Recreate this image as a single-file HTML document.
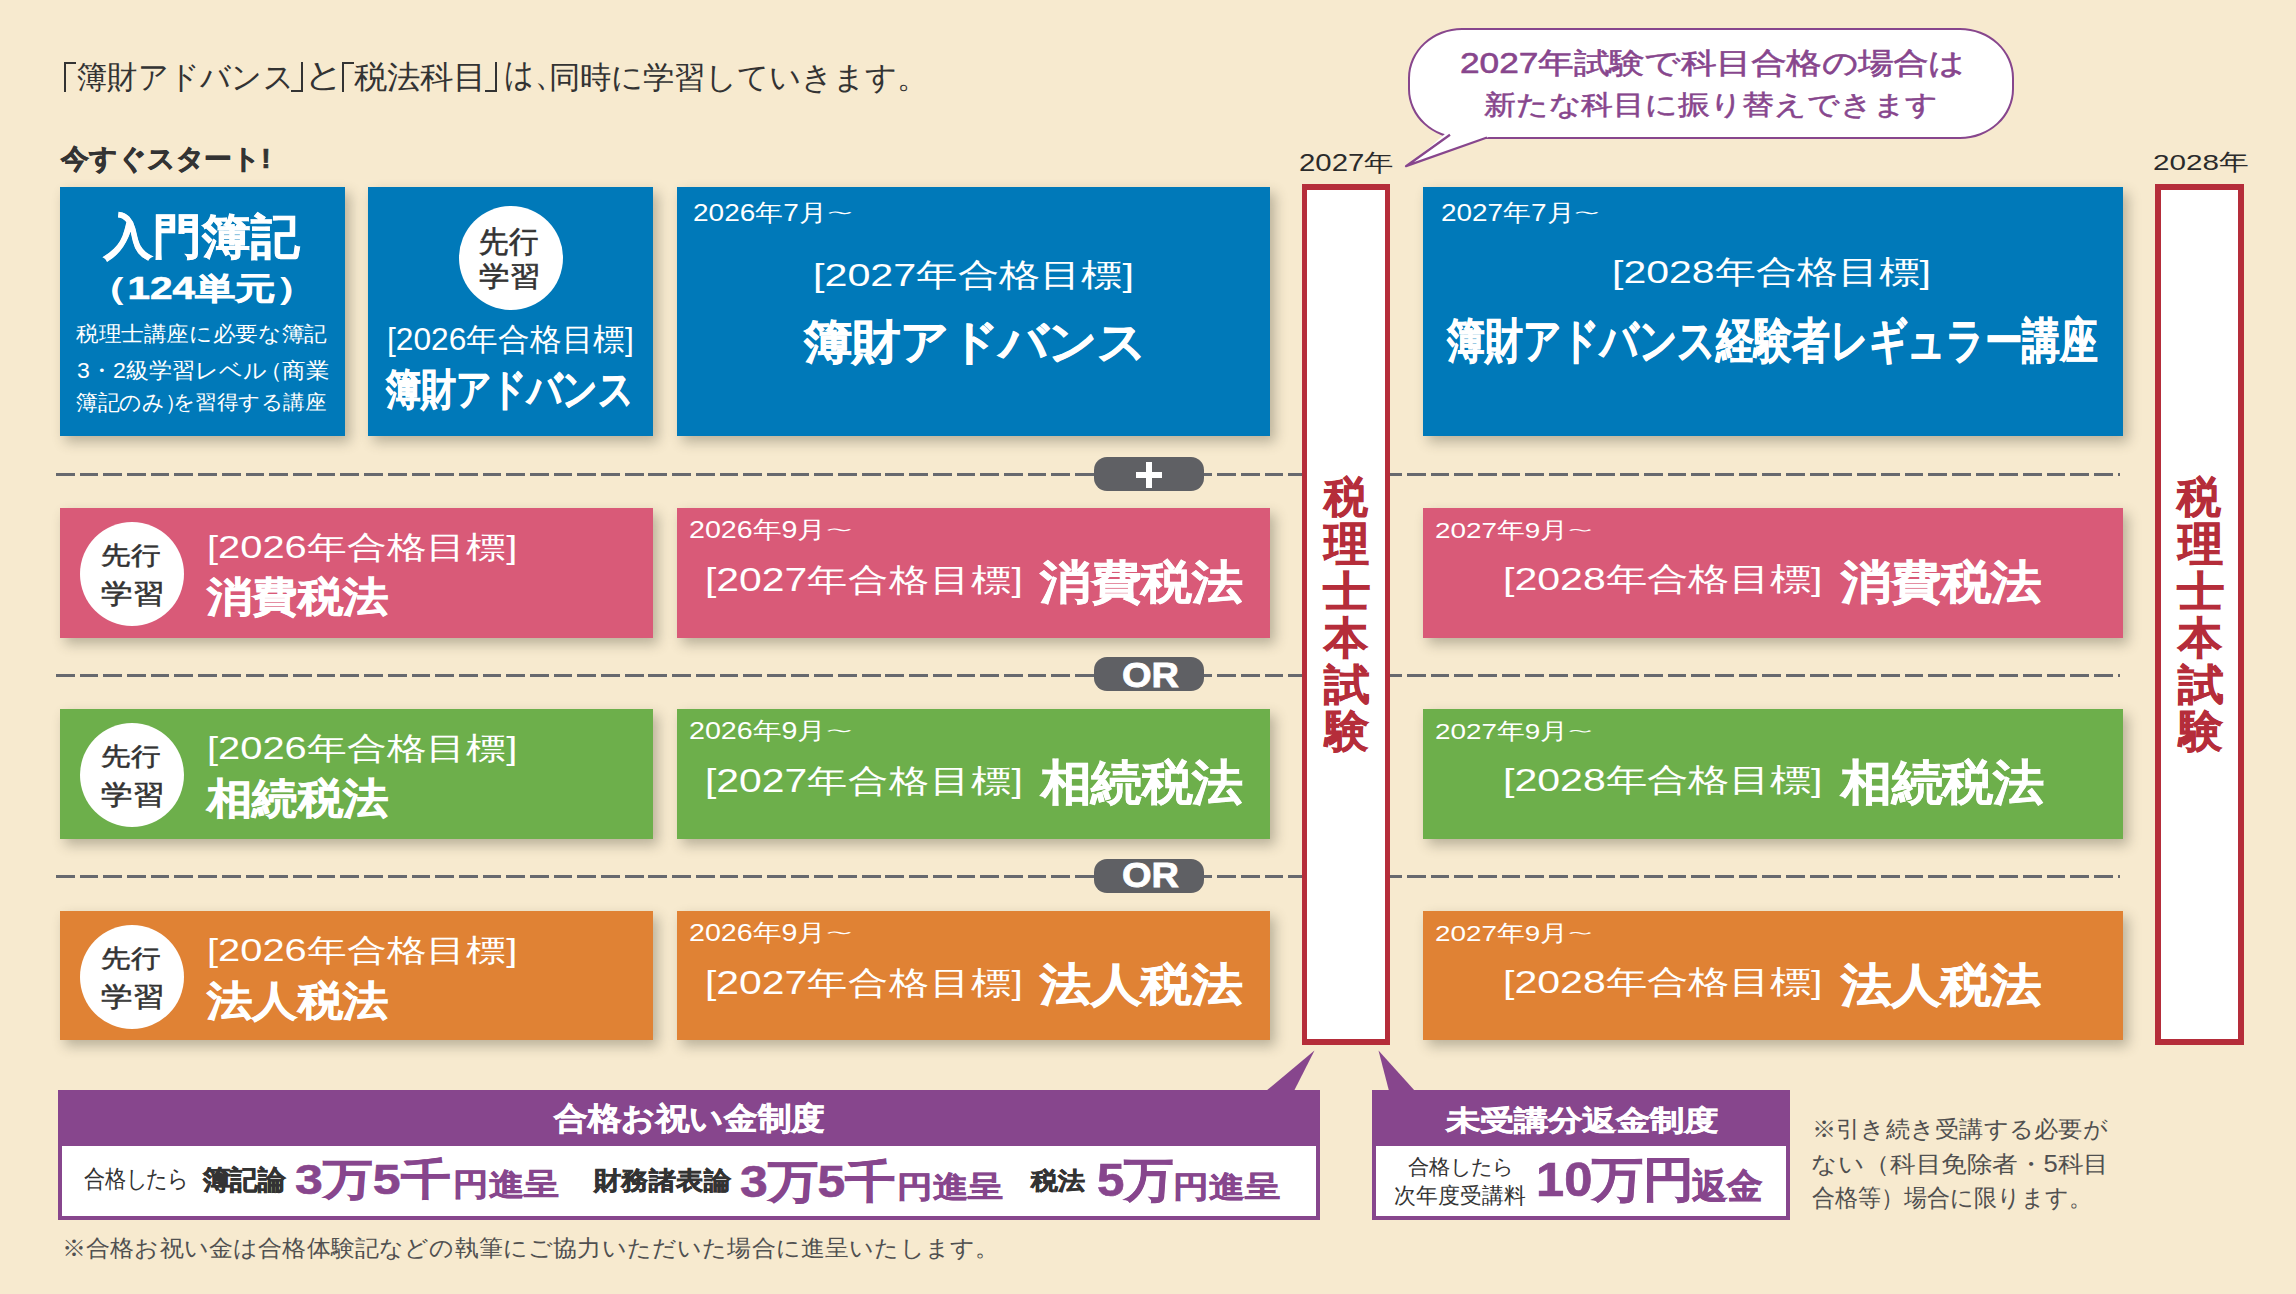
<!DOCTYPE html>
<html lang="ja">
<head>
<meta charset="utf-8">
<title>簿財アドバンス・税法科目 学習スケジュール</title>
<style>
*{margin:0;padding:0;box-sizing:border-box}
html,body{width:2296px;height:1294px;overflow:hidden}
body{background:#F7EACF;font-family:"Liberation Sans",sans-serif;color:#333;position:relative}
.a{position:absolute;white-space:nowrap}
.t{position:absolute;white-space:nowrap;transform-origin:0 0;line-height:1}
.box{position:absolute;box-shadow:5px 6px 12px rgba(62,62,45,.33)}
.blue{background:#0079B9}
.pink{background:#D95A78}
.green{background:#6DAF4B}
.orange{background:#E08234}
.b{font-weight:bold;-webkit-text-stroke:0.7px currentColor}.m{-webkit-text-stroke:0.6px currentColor}
.dash{position:absolute;left:56px;width:2064px;height:3px;background:repeating-linear-gradient(90deg,#67696E 0 18.7px,transparent 18.7px 23.7px)}
.pill{position:absolute;left:1094px;width:110px;height:34px;border-radius:13px;background:#5F6064}
.pillar{position:absolute;top:184px;height:861px;width:88px;background:#fff;border:6px solid #B52D3A;border-left-width:5px;border-right-width:5px}
.circ{position:absolute;width:104px;height:104px;border-radius:50%;background:#fff}
.pbox{position:absolute;top:1090px;height:130px;background:#87468D;border:4px solid #87468D;border-top:0}
.brk{position:absolute;border:0 solid #333;font-size:1px;line-height:1px;color:transparent;overflow:hidden}.bo{border-left-width:2.6px;border-top-width:2.6px}.bc{border-right-width:2.6px;border-bottom-width:2.6px}
.pbox .inner{position:absolute;left:0;right:0;bottom:0;height:70px;background:#fff}
</style>
</head>
<body>
<!-- dashed separators -->
<div class="dash" style="top:473px"></div>
<div class="dash" style="top:674px"></div>
<div class="dash" style="top:875px"></div>

<!-- row 1 : blue -->
<div class="box blue" style="left:60px;top:187px;width:285px;height:249px"></div>
<div class="box blue" style="left:368px;top:187px;width:285px;height:249px"></div>
<div class="box blue" style="left:677px;top:187px;width:593px;height:249px"></div>
<div class="box blue" style="left:1423px;top:187px;width:700px;height:249px"></div>

<!-- row 2 : pink -->
<div class="box pink" style="left:60px;top:508px;width:593px;height:130px"></div>
<div class="box pink" style="left:677px;top:508px;width:593px;height:130px"></div>
<div class="box pink" style="left:1423px;top:508px;width:700px;height:130px"></div>

<!-- row 3 : green -->
<div class="box green" style="left:60px;top:709px;width:593px;height:130px"></div>
<div class="box green" style="left:677px;top:709px;width:593px;height:130px"></div>
<div class="box green" style="left:1423px;top:709px;width:700px;height:130px"></div>

<!-- row 4 : orange -->
<div class="box orange" style="left:60px;top:911px;width:593px;height:129px"></div>
<div class="box orange" style="left:677px;top:911px;width:593px;height:129px"></div>
<div class="box orange" style="left:1423px;top:911px;width:700px;height:129px"></div>

<!-- "先行学習" badges -->
<div class="circ" style="left:459px;top:206px"></div>
<div class="circ" style="left:80px;top:522px"></div>
<div class="circ" style="left:80px;top:723px"></div>
<div class="circ" style="left:80px;top:925px"></div>

<!-- connector pills -->
<div class="pill" style="top:457px"></div>
<div class="pill" style="top:657px"></div>
<div class="pill" style="top:859px"></div>
<div class="a" style="left:1136px;top:472px;width:26px;height:6.2px;background:#fff"></div>
<div class="a" style="left:1146px;top:462px;width:6.3px;height:26.3px;background:#fff"></div>

<!-- exam pillars -->
<div class="pillar" style="left:1302px"></div>
<div class="pillar" style="left:2155px;width:89px;border-left-width:6px;border-right-width:6px"></div>

<!-- speech bubble -->
<div class="a" style="left:1408px;top:27.5px;width:606px;height:111px;border:2.2px solid #87468D;border-radius:54px/50px;background:#fff"></div>
<svg class="a" style="left:0;top:0" width="2296" height="200" viewBox="0 0 2296 200">
<path d="M1446 133 L1409 165 L1490 136.5 Z" fill="#fff"/>
<path d="M1450 134.8 L1406 166.2 L1487 137.5" fill="none" stroke="#87468D" stroke-width="2.3" stroke-linejoin="round"/>
</svg>

<!-- bottom purple panels -->
<svg class="a" style="left:1250px;top:1040px" width="180" height="60" viewBox="1250 1040 180 60">
<path d="M1266 1091 L1314.5 1050.5 L1294 1091 Z" fill="#87468D"/>
<path d="M1389 1091 L1378.5 1050.5 L1415 1091 Z" fill="#87468D"/>
</svg>
<div class="pbox" style="left:58px;width:1262px"><div class="inner"></div></div>
<div class="pbox" style="left:1372px;width:418px"><div class="inner"></div></div>

<!-- ===== text ===== -->
<div class="brk bo" style="left:63.7px;top:61.6px;width:12.5px;height:30px">「</div>
<div class="brk bc" style="left:290.5px;top:61.6px;width:12.3px;height:30px">」</div>
<div class="brk bo" style="left:341.7px;top:61.6px;width:12px;height:30px">「</div>
<div class="brk bc" style="left:485px;top:61.6px;width:12px;height:30px">」</div>
<div id="t_t1a" class="t" style="left:76.81px;top:61.43px;font-size:31px;color:#333;transform:scale(0.9769,1.0352)">簿財アドバンス</div>
<div id="t_t1b" class="t" style="left:304.28px;top:57.56px;font-size:31px;color:#333;transform:scale(1.2905,1.0784)">と</div>
<div id="t_t1c" class="t" style="left:354.36px;top:61.90px;font-size:31px;color:#333;transform:scale(1.0641,1.0168)">税法科目</div>
<div id="t_t1d" class="t" style="left:503.69px;top:57.23px;font-size:31px;color:#333;transform:scale(0.9619,1.1116)">は、</div>
<div id="t_t1e" class="t" style="left:548.80px;top:61.91px;font-size:31px;color:#333;transform:scale(1.0014,0.9875)">同時に学習していきます。</div>
<div id="t_start" class="t b" style="left:61.20px;top:146.19px;font-size:28px;color:#333;transform:scale(0.9957,0.9680)">今すぐスタート!</div>
<div id="t_y27" class="t" style="left:1299.35px;top:150.60px;font-size:24px;color:#2b2b2b;transform:scale(1.2232,1.0000)">2027年</div>
<div id="t_y28" class="t" style="left:2152.91px;top:151.25px;font-size:24px;color:#2b2b2b;transform:scale(1.2354,0.9545)">2028年</div>
<div id="t_bub1" class="t m" style="left:1460.31px;top:48.98px;font-size:31px;color:#87468D;transform:scale(1.1370,0.9216)">2027年試験で科目合格の場合は</div>
<div id="t_bub2" class="t m" style="left:1484.37px;top:90.78px;font-size:31px;color:#87468D;transform:scale(1.0251,0.8680)">新たな科目に振り替えできます</div>
<div id="t_nyumon" class="t b" style="left:103.97px;top:212.34px;font-size:50px;color:#fff;transform:scale(0.9803,0.9677)">入門簿記</div>
<div id="t_b124" class="t b" style="left:86.81px;top:273.47px;font-size:34px;color:#fff;transform:scale(1.1902,0.9119)">（124単元）</div>
<div id="t_b1l1" class="t" style="left:75.99px;top:324.19px;font-size:22px;color:#fff;transform:scale(1.0284,0.9529)">税理士講座に必要な簿記</div>
<div id="t_b1l2a" class="t" style="left:76.78px;top:359.70px;font-size:22px;color:#fff;transform:scale(1.0489,1.0000)">3・2級学習レベル</div>
<div id="t_b1l2b" class="t" style="left:258.81px;top:359.72px;font-size:22px;color:#fff;transform:scale(1.0678,1.0023)">（商業</div>
<div id="t_b1l3a" class="t" style="left:76.01px;top:391.94px;font-size:22px;color:#fff;transform:scale(0.9856,0.9928)">簿記のみ）</div>
<div id="t_b1l3b" class="t" style="left:173.27px;top:392.86px;font-size:22px;color:#fff;transform:scale(0.9752,0.9025)">を習得する講座</div>
<div id="t_c0a" class="t m" style="left:478.88px;top:227.03px;font-size:29px;color:#333;transform:scale(1.0199,1.0407)">先行</div>
<div id="t_c0b" class="t m" style="left:478.91px;top:262.94px;font-size:29px;color:#333;transform:scale(1.0565,0.9696)">学習</div>
<div id="t_b2t" class="t" style="left:387.49px;top:323.78px;font-size:33px;color:#fff;transform:scale(0.9611,0.9412)">[2026年合格目標]</div>
<div id="t_b2s" class="t b" style="left:385.75px;top:367.80px;font-size:42px;color:#fff;transform:scale(0.8282,1.0199)">簿財アドバンス</div>
<div id="t_b3d" class="t" style="left:693.10px;top:200.64px;font-size:23px;color:#fff;transform:scale(1.2172,1.0476)">2026年7月<span style="display:inline-block;transform:scale(.9,.45);transform-origin:0 55%">〜</span></div>
<div id="t_b3t" class="t" style="left:812.64px;top:258.63px;font-size:35px;color:#fff;transform:scale(1.1791,0.9159)">[2027年合格目標]</div>
<div id="t_b3s" class="t b" style="left:803.99px;top:317.86px;font-size:52px;color:#fff;transform:scale(0.9278,0.9014)">簿財アドバンス</div>
<div id="t_b4d" class="t" style="left:1440.53px;top:200.64px;font-size:23px;color:#fff;transform:scale(1.2133,1.0476)">2027年7月<span style="display:inline-block;transform:scale(.9,.45);transform-origin:0 55%">〜</span></div>
<div id="t_b4t" class="t" style="left:1612.41px;top:256.36px;font-size:35px;color:#fff;transform:scale(1.1713,0.9159)">[2028年合格目標]</div>
<div id="t_b4s" class="t b" style="left:1447.00px;top:316.94px;font-size:50px;color:#fff;transform:scale(0.7582,0.9612)">簿財アドバンス経験者レギュラー講座</div>
<div id="t_pca" class="t m" style="left:100.97px;top:543.07px;font-size:29px;color:#333;transform:scale(1.0353,0.8790)">先行</div>
<div id="t_pcb" class="t m" style="left:101.00px;top:581.16px;font-size:29px;color:#333;transform:scale(1.0906,0.9328)">学習</div>
<div id="t_p1t" class="t" style="left:206.74px;top:531.75px;font-size:33px;color:#fff;transform:scale(1.2084,0.9412)">[2026年合格目標]</div>
<div id="t_p1s" class="t b" style="left:207.40px;top:576.49px;font-size:45px;color:#fff;transform:scale(1.0079,0.9116)">消費税法</div>
<div id="t_p2d" class="t" style="left:688.75px;top:518.47px;font-size:23px;color:#fff;transform:scale(1.2458,1.0414)">2026年9月<span style="display:inline-block;transform:scale(.9,.45);transform-origin:0 55%">〜</span></div>
<div id="t_p2t" class="t" style="left:704.83px;top:562.59px;font-size:35px;color:#fff;transform:scale(1.1668,0.9282)">[2027年合格目標]</div>
<div id="t_p2s" class="t b" style="left:1039.99px;top:559.02px;font-size:51px;color:#fff;transform:scale(0.9928,0.8975)">消費税法</div>
<div id="t_p3d" class="t" style="left:1434.79px;top:518.67px;font-size:23px;color:#fff;transform:scale(1.2106,0.9983)">2027年9月<span style="display:inline-block;transform:scale(.9,.45);transform-origin:0 55%">〜</span></div>
<div id="t_p3t" class="t" style="left:1503.40px;top:562.62px;font-size:35px;color:#fff;transform:scale(1.1728,0.9075)">[2028年合格目標]</div>
<div id="t_p3s" class="t b" style="left:1841.40px;top:558.83px;font-size:51px;color:#fff;transform:scale(0.9824,0.8967)">消費税法</div>
<div id="t_gca" class="t m" style="left:100.97px;top:744.07px;font-size:29px;color:#333;transform:scale(1.0353,0.8790)">先行</div>
<div id="t_gcb" class="t m" style="left:101.00px;top:782.16px;font-size:29px;color:#333;transform:scale(1.0906,0.9328)">学習</div>
<div id="t_g1t" class="t" style="left:206.74px;top:732.75px;font-size:33px;color:#fff;transform:scale(1.2084,0.9412)">[2026年合格目標]</div>
<div id="t_g1s" class="t b" style="left:207.41px;top:778.49px;font-size:45px;color:#fff;transform:scale(1.0078,0.9323)">相続税法</div>
<div id="t_g2d" class="t" style="left:688.75px;top:719.47px;font-size:23px;color:#fff;transform:scale(1.2458,1.0414)">2026年9月<span style="display:inline-block;transform:scale(.9,.45);transform-origin:0 55%">〜</span></div>
<div id="t_g2t" class="t" style="left:704.83px;top:763.59px;font-size:35px;color:#fff;transform:scale(1.1668,0.9282)">[2027年合格目標]</div>
<div id="t_g2s" class="t b" style="left:1040.99px;top:759.10px;font-size:51px;color:#fff;transform:scale(0.9878,0.9330)">相続税法</div>
<div id="t_g3d" class="t" style="left:1434.79px;top:719.67px;font-size:23px;color:#fff;transform:scale(1.2106,0.9983)">2027年9月<span style="display:inline-block;transform:scale(.9,.45);transform-origin:0 55%">〜</span></div>
<div id="t_g3t" class="t" style="left:1503.40px;top:763.62px;font-size:35px;color:#fff;transform:scale(1.1728,0.9075)">[2028年合格目標]</div>
<div id="t_g3s" class="t b" style="left:1841.39px;top:758.87px;font-size:51px;color:#fff;transform:scale(0.9923,0.9330)">相続税法</div>
<div id="t_oca" class="t m" style="left:100.97px;top:946.07px;font-size:29px;color:#333;transform:scale(1.0353,0.8790)">先行</div>
<div id="t_ocb" class="t m" style="left:101.00px;top:984.16px;font-size:29px;color:#333;transform:scale(1.0906,0.9328)">学習</div>
<div id="t_o1t" class="t" style="left:206.74px;top:934.75px;font-size:33px;color:#fff;transform:scale(1.2084,0.9412)">[2026年合格目標]</div>
<div id="t_o1s" class="t b" style="left:207.40px;top:979.50px;font-size:45px;color:#fff;transform:scale(1.0079,0.9130)">法人税法</div>
<div id="t_o2d" class="t" style="left:688.75px;top:921.47px;font-size:23px;color:#fff;transform:scale(1.2458,1.0414)">2026年9月<span style="display:inline-block;transform:scale(.9,.45);transform-origin:0 55%">〜</span></div>
<div id="t_o2t" class="t" style="left:704.83px;top:965.59px;font-size:35px;color:#fff;transform:scale(1.1668,0.9282)">[2027年合格目標]</div>
<div id="t_o2s" class="t b" style="left:1039.99px;top:961.99px;font-size:51px;color:#fff;transform:scale(0.9928,0.8796)">法人税法</div>
<div id="t_o3d" class="t" style="left:1434.79px;top:921.67px;font-size:23px;color:#fff;transform:scale(1.2106,0.9983)">2027年9月<span style="display:inline-block;transform:scale(.9,.45);transform-origin:0 55%">〜</span></div>
<div id="t_o3t" class="t" style="left:1503.40px;top:965.62px;font-size:35px;color:#fff;transform:scale(1.1728,0.9075)">[2028年合格目標]</div>
<div id="t_o3s" class="t b" style="left:1841.40px;top:961.83px;font-size:51px;color:#fff;transform:scale(0.9824,0.8967)">法人税法</div>
<div id="t_v1_0" class="t b" style="left:1323.96px;top:475.20px;font-size:47px;color:#B52D3A;transform:scale(0.9384,0.9185)">税</div>
<div id="t_v1_1" class="t b" style="left:1323.96px;top:520.90px;font-size:47px;color:#B52D3A;transform:scale(0.9588,0.9762)">理</div>
<div id="t_v1_2" class="t b" style="left:1323.00px;top:571.23px;font-size:47px;color:#B52D3A;transform:scale(1.0014,0.8845)">士</div>
<div id="t_v1_3" class="t b" style="left:1323.90px;top:614.61px;font-size:47px;color:#B52D3A;transform:scale(0.9411,0.9421)">本</div>
<div id="t_v1_4" class="t b" style="left:1323.98px;top:663.25px;font-size:47px;color:#B52D3A;transform:scale(0.9787,0.8966)">試</div>
<div id="t_v1_5" class="t b" style="left:1324.90px;top:709.34px;font-size:47px;color:#B52D3A;transform:scale(0.9388,0.9371)">験</div>
<div id="t_v2_0" class="t b" style="left:2176.99px;top:475.20px;font-size:47px;color:#B52D3A;transform:scale(0.9384,0.9185)">税</div>
<div id="t_v2_1" class="t b" style="left:2177.97px;top:520.90px;font-size:47px;color:#B52D3A;transform:scale(0.9588,0.9762)">理</div>
<div id="t_v2_2" class="t b" style="left:2176.98px;top:571.23px;font-size:47px;color:#B52D3A;transform:scale(1.0014,0.8845)">士</div>
<div id="t_v2_3" class="t b" style="left:2177.92px;top:614.61px;font-size:47px;color:#B52D3A;transform:scale(0.9411,0.9421)">本</div>
<div id="t_v2_4" class="t b" style="left:2177.98px;top:663.25px;font-size:47px;color:#B52D3A;transform:scale(0.9787,0.8966)">試</div>
<div id="t_v2_5" class="t b" style="left:2178.91px;top:709.34px;font-size:47px;color:#B52D3A;transform:scale(0.9388,0.9371)">験</div>
<div id="t_ph1" class="t b" style="left:554.00px;top:1101.60px;font-size:34px;color:#fff;transform:scale(0.9890,0.9151)">合格お祝い金制度</div>
<div id="t_ph2" class="t b" style="left:1446.00px;top:1105.59px;font-size:34px;color:#fff;transform:scale(0.9994,0.8140)">未受講分返金制度</div>
<div id="t_c1" class="t" style="left:83.58px;top:1167.45px;font-size:20px;color:#333;transform:scale(1.0389,1.1757)">合格したら</div>
<div id="t_c2" class="t b" style="left:203.19px;top:1166.88px;font-size:28px;color:#333;transform:scale(0.9777,0.9513)">簿記論</div>
<div id="t_c3" class="t b" style="left:295.39px;top:1158.48px;font-size:50px;color:#87468D;transform:scale(1.0008,0.8673)">3万5千</div>
<div id="t_c4" class="t b" style="left:452.55px;top:1168.24px;font-size:35px;color:#87468D;transform:scale(1.0190,0.8906)">円進呈</div>
<div id="t_c5" class="t b" style="left:594.00px;top:1168.10px;font-size:28px;color:#333;transform:scale(0.9789,0.9042)">財務諸表論</div>
<div id="t_c6" class="t b" style="left:739.99px;top:1158.93px;font-size:50px;color:#87468D;transform:scale(0.9969,0.8932)">3万5千</div>
<div id="t_c7" class="t b" style="left:896.93px;top:1170.67px;font-size:35px;color:#87468D;transform:scale(1.0191,0.8593)">円進呈</div>
<div id="t_c8" class="t b" style="left:1030.99px;top:1169.03px;font-size:28px;color:#333;transform:scale(0.9782,0.8722)">税法</div>
<div id="t_c9" class="t b" style="left:1096.61px;top:1157.19px;font-size:50px;color:#87468D;transform:scale(0.9859,0.9367)">5万</div>
<div id="t_c10" class="t b" style="left:1173.11px;top:1170.67px;font-size:35px;color:#87468D;transform:scale(1.0252,0.8593)">円進呈</div>
<div id="t_d1a" class="t" style="left:1408.33px;top:1155.79px;font-size:20px;color:#333;transform:scale(1.0480,1.0341)">合格したら</div>
<div id="t_d1b" class="t" style="left:1394.15px;top:1183.85px;font-size:21px;color:#333;transform:scale(1.0436,1.0500)">次年度受講料</div>
<div id="t_d2" class="t b" style="left:1535.81px;top:1156.19px;font-size:48px;color:#87468D;transform:scale(1.0548,0.9906)">10万円</div>
<div id="t_d3" class="t b" style="left:1692.19px;top:1167.90px;font-size:35px;color:#87468D;transform:scale(1.0121,1.0000)">返金</div>
<div id="t_n1" class="t" style="left:1811.97px;top:1117.62px;font-size:24px;color:#505050;transform:scale(1.0098,0.9583)">※引き続き受講する必要が</div>
<div id="t_n2" class="t" style="left:1810.87px;top:1153.41px;font-size:24px;color:#505050;transform:scale(1.0666,0.9583)">ない（科目免除者・5科目</div>
<div id="t_n3" class="t" style="left:1812.04px;top:1185.60px;font-size:24px;color:#505050;transform:scale(0.9600,1.0000)">合格等）場合に限ります。</div>
<div id="t_foot" class="t" style="left:62.18px;top:1236.64px;font-size:24px;color:#505050;transform:scale(1.0067,0.9652)">※合格お祝い金は合格体験記などの執筆にご協力いただいた場合に進呈いたします。</div>
<div id="t_or1" class="t b" style="left:1121.54px;top:656.65px;font-size:32px;color:#fff;transform:scale(1.1882,1.1113)">OR</div>
<div id="t_or2" class="t b" style="left:1121.54px;top:858.35px;font-size:32px;color:#fff;transform:scale(1.1882,1.0885)">OR</div>
</body>
</html>
